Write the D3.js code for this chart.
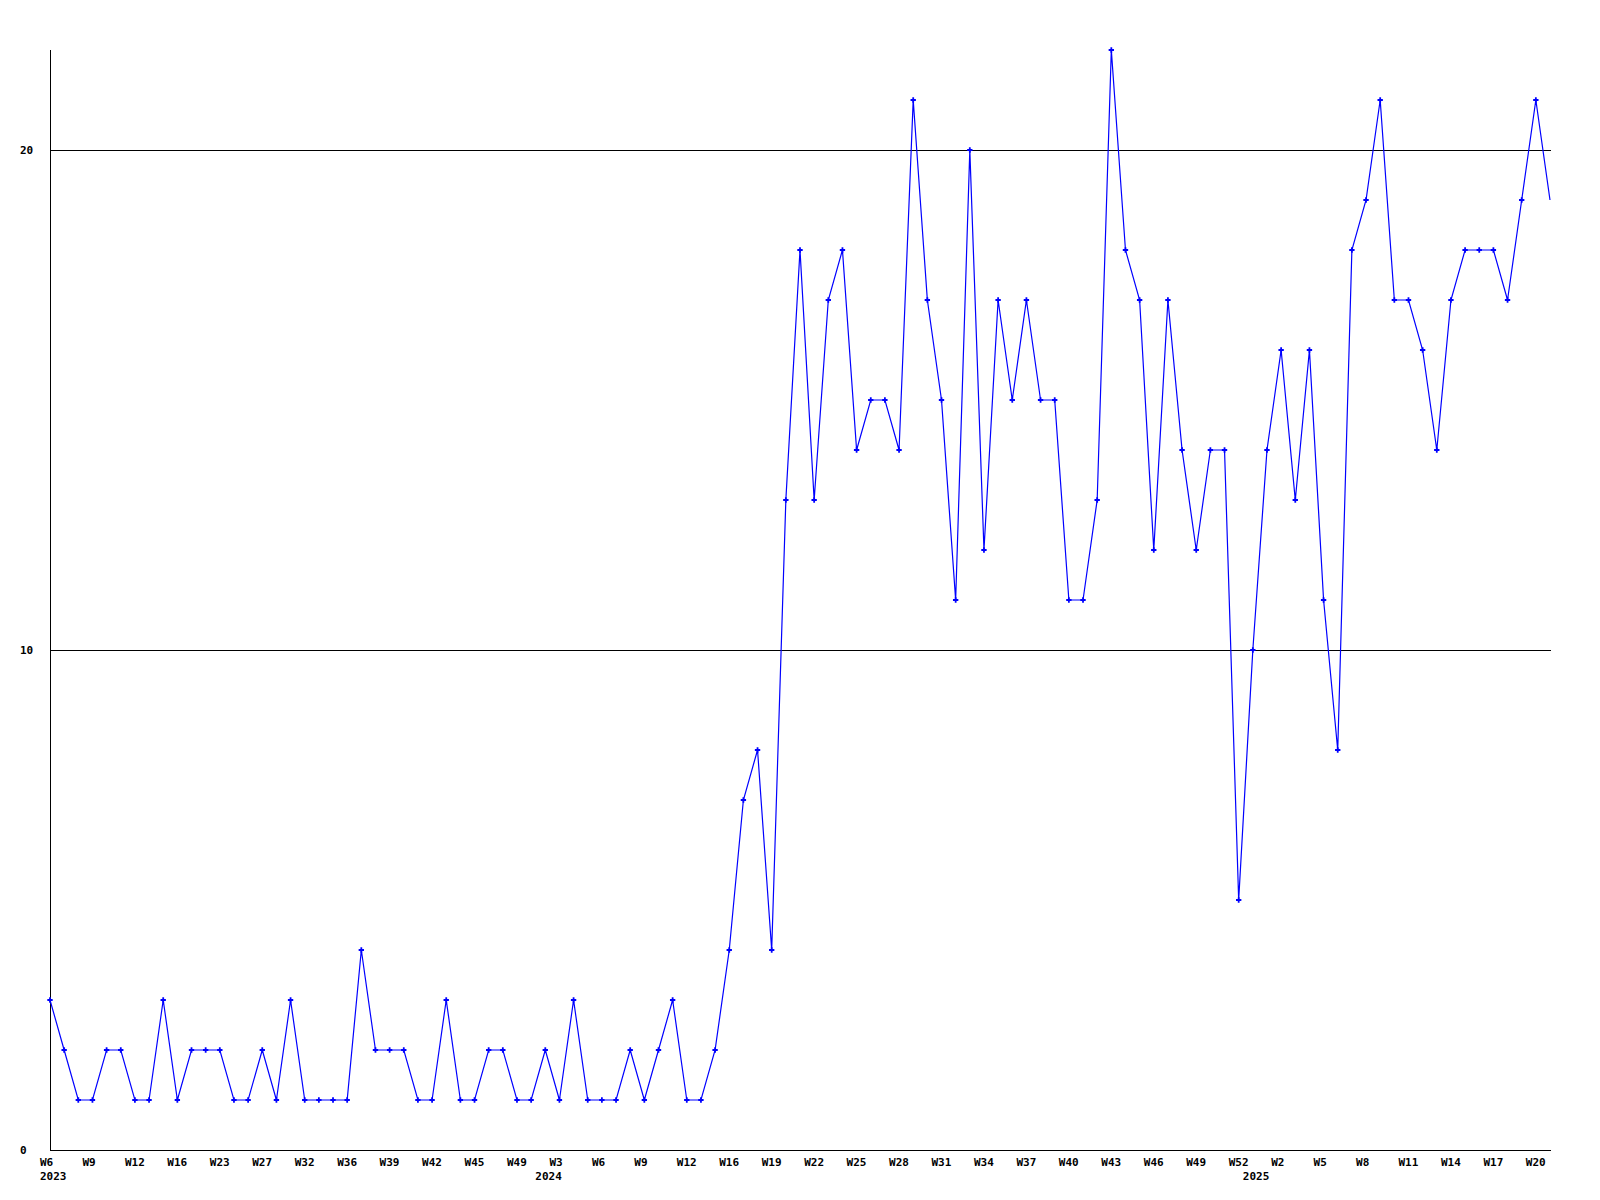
<!DOCTYPE html>
<html>
<head>
<meta charset="utf-8">
<script src="https://cdn.jsdelivr.net/npm/d3@7"></script>
<style>
  html, body { margin: 0; padding: 0; background: #ffffff; }
  svg { display: block; }
  text { font-family: "DejaVu Sans Mono", "Liberation Mono", monospace; font-weight: bold; font-size: 11px; fill: #000; }
</style>
</head>
<body>
<svg id="chart" width="1600" height="1200"></svg>
<script>
// ---- data ----
const values = [
  3, 2, 1, 1, 2, 2, 1, 1, 3, 1,
  2, 2, 2, 1, 1, 2, 1, 3, 1, 1,
  1, 1, 4, 2, 2, 2, 1, 1, 3, 1,
  1, 2, 2, 1, 1, 2, 1, 3, 1, 1,
  1, 2, 1, 2, 3, 1, 1, 2, 4, 7,
  8, 4, 13, 18, 13, 17, 18, 14, 15, 15,
  14, 21, 17, 15, 11, 20, 12, 17, 15, 17,
  15, 15, 11, 11, 13, 22, 18, 17, 12, 17,
  14, 12, 14, 14, 5, 10, 14, 16, 13, 16,
  11, 8, 18, 19, 21, 17, 17, 16, 14, 17,
  18, 18, 18, 17, 19, 21, 19
];
// week labels shown on every third point
const tickLabels = [
  "W6", "W9", "W12", "W16", "W23", "W27", "W32", "W36", "W39", "W42", "W45", "W49",
  "W3", "W6", "W9", "W12", "W16", "W19", "W22", "W25", "W28", "W31", "W34", "W37",
  "W40", "W43", "W46", "W49", "W52",
  "W2", "W5", "W8", "W11", "W14", "W17", "W20"
];
const tickEvery = 3;
// year labels and the index of the first point of that year
const yearLabels = ["2023", "2024", "2025"];
const yearStarts = [0, 35, 85];
const yTicks = [0, 10, 20];
const yMax = 22;

// ---- layout ----
const svg = d3.select("#chart");
const mLeft = 50, mRight = 1550, mTop = 50, mBottom = 1150;

const x = d3.scalePoint().domain(d3.range(values.length)).range([mLeft, mRight]);
const y = d3.scaleLinear().domain([0, yMax]).range([mBottom, mTop]);

// grid lines
svg.append("g").selectAll("line")
  .data(yTicks.filter(d => d > 0))
  .join("line")
  .attr("x1", mLeft).attr("x2", mRight + 1)
  .attr("y1", d => Math.round(y(d)) + 0.5).attr("y2", d => Math.round(y(d)) + 0.5)
  .attr("stroke", "#000").attr("stroke-width", 1).attr("shape-rendering", "crispEdges");

// axes lines
svg.append("line")
  .attr("x1", mLeft + 0.5).attr("x2", mLeft + 0.5)
  .attr("y1", y(yMax)).attr("y2", mBottom + 0.5)
  .attr("stroke", "#000").attr("shape-rendering", "crispEdges");
svg.append("line")
  .attr("x1", mLeft).attr("x2", mRight + 1)
  .attr("y1", mBottom + 0.5).attr("y2", mBottom + 0.5)
  .attr("stroke", "#000").attr("shape-rendering", "crispEdges");

// y labels
svg.append("g").selectAll("text")
  .data(yTicks)
  .join("text")
  .attr("x", 20)
  .attr("y", d => y(d) + 4)
  .text(d => d);

// x week labels
svg.append("g").selectAll("text")
  .data(tickLabels)
  .join("text")
  .attr("x", (d, i) => x(i * tickEvery) - 10)
  .attr("y", mBottom + 16)
  .text(d => d);

// year labels
svg.append("g").selectAll("text")
  .data(yearLabels)
  .join("text")
  .attr("x", (d, i) => x(yearStarts[i]) - 10)
  .attr("y", mBottom + 30)
  .text(d => d);

// series line
const line = d3.line().x((d, i) => x(i)).y(d => y(d));
svg.append("path")
  .datum(values)
  .attr("d", line)
  .attr("fill", "none")
  .attr("stroke", "#0000ff")
  .attr("stroke-width", 1.2);

// markers (the final point is drawn without a marker, as in the reference)
svg.append("g").selectAll("path")
  .data(values.slice(0, -1))
  .join("path")
  .attr("transform", (d, i) => `translate(${x(i)},${y(d)})`)
  .attr("d", d3.symbol().type(d3.symbolCross).size(16))
  .attr("fill", "#0000ff");
</script>
</body>
</html>
